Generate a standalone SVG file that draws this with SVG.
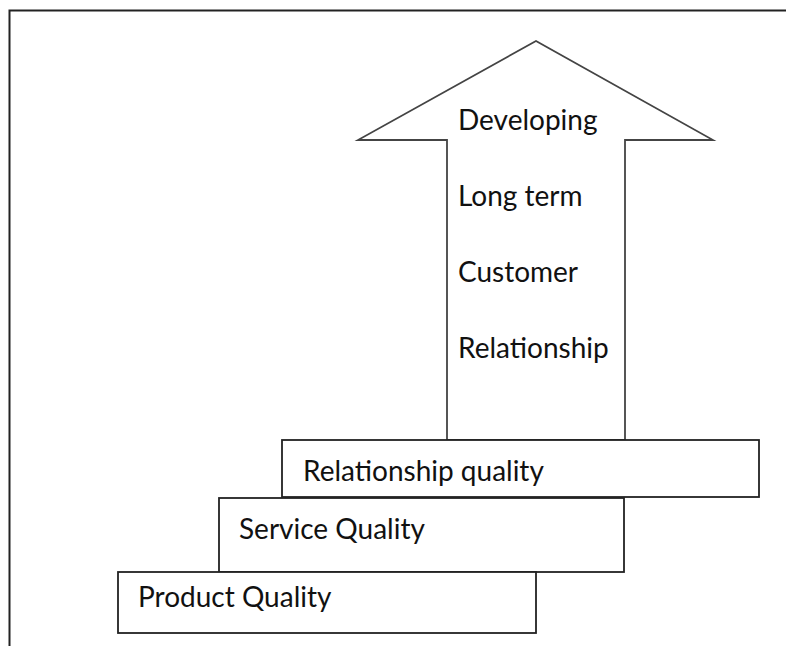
<svg xmlns="http://www.w3.org/2000/svg" width="786" height="646" viewBox="0 0 786 646">
  <style>
    .frame { fill: none; stroke: #222; stroke-width: 2; }
    .box { fill: #fff; stroke: #222; stroke-width: 1.8; }
    .arrow { fill: #fff; stroke: #444; stroke-width: 1.8; stroke-linejoin: miter; }
    .lbl { font-family: Lato, "Open Sans", "Liberation Sans", sans-serif; font-size: 28px; fill: #111; }
  </style>
  <rect width="786" height="646" fill="#fff"/>
  <!-- page frame: top and left edges -->
  <path class="frame" d="M9.5 646 V10.5 H786"/>

  <g id="arrow">
    <path class="arrow" d="M447 440 V140 H358 L536 41 L713 140 H625 V440 Z"/>
    <text class="lbl" x="458" y="130">Developing</text>
    <text class="lbl" x="458" y="206">Long term</text>
    <text class="lbl" x="458" y="282">Customer</text>
    <text class="lbl" x="458" y="358">Relationship</text>
  </g>

  <g id="relationship-quality">
    <rect class="box" x="282" y="440" width="477" height="57"/>
    <text class="lbl" x="303" y="481">Relationship quality</text>
  </g>

  <g id="service-quality">
    <rect class="box" x="219" y="498" width="405" height="74"/>
    <text class="lbl" x="239" y="539">Service Quality</text>
  </g>

  <g id="product-quality">
    <rect class="box" x="118" y="572" width="418" height="61"/>
    <text class="lbl" x="138" y="607">Product Quality</text>
  </g>
</svg>
